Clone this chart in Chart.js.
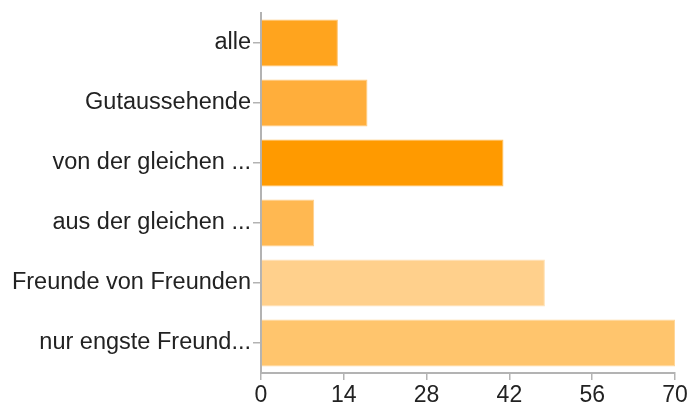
<!DOCTYPE html>
<html>
<head>
<meta charset="utf-8">
<script src="https://cdn.jsdelivr.net/npm/chart.js@4"></script>
<style>
  html, body { margin: 0; padding: 0; background: #fff; }
  #wrap { width: 688px; height: 402px; }
</style>
</head>
<body>
<div id="wrap"><canvas id="chart"></canvas></div>
<script>
// categories and values
const categories = [
  'alle',
  'Gutaussehende',
  'von der gleichen ...',
  'aus der gleichen ...',
  'Freunde von Freunden',
  'nur engste Freund...'
];
const counts = [13, 18, 41, 9, 48, 70];
const xTicks = [0, 14, 28, 42, 56, 70];

const barColors = ['#FFA41E', '#FFAE3B', '#FF9A00', '#FFB851', '#FFD08C', '#FFC56D'];
const edgeColors = ['#FFC36E', '#FFC97E', '#FFBE5A', '#FFCF8C', '#FFE0B4', '#FFD699'];

const axisColor = '#b3b3b3';

new Chart(document.getElementById('chart'), {
  type: 'bar',
  data: {
    labels: categories,
    datasets: [{
      data: counts,
      backgroundColor: barColors,
      borderColor: edgeColors,
      borderWidth: 1,
      categoryPercentage: 1,
      barPercentage: 0.78
    }]
  },
  options: {
    indexAxis: 'y',
    responsive: true,
    maintainAspectRatio: false,
    animation: false,
    layout: { padding: { top: 13, right: 13, left: 0, bottom: 0 } },
    plugins: {
      legend: { display: false },
      tooltip: { enabled: false }
    },
    scales: {
      x: {
        min: 0,
        max: 70,
        afterBuildTicks: (scale) => { scale.ticks = xTicks.map(v => ({ value: v })); },
        afterFit: (scale) => {
          scale.height = 29;
          scale.paddingLeft = 0;
          scale.paddingRight = 0;
        },
        grid: { drawOnChartArea: false, drawTicks: true, tickLength: 7, color: axisColor, lineWidth: 1.5 },
        border: { display: true, color: axisColor, width: 2 },
        ticks: {
          padding: 2,
          color: '#222',
          font: { family: 'Liberation Sans', size: 23 }
        }
      },
      y: {
        afterFit: (scale) => {
          scale.width = 261;
          scale.paddingTop = 0;
          scale.paddingBottom = 0;
        },
        grid: { offset: false, drawOnChartArea: false, drawTicks: true, tickLength: 8, color: axisColor, lineWidth: 1.5 },
        border: { display: true, color: axisColor, width: 2 },
        ticks: {
          padding: 2,
          color: '#222',
          font: { family: 'Liberation Sans', size: 23.5 }
        }
      }
    }
  }
});
</script>
</body>
</html>
